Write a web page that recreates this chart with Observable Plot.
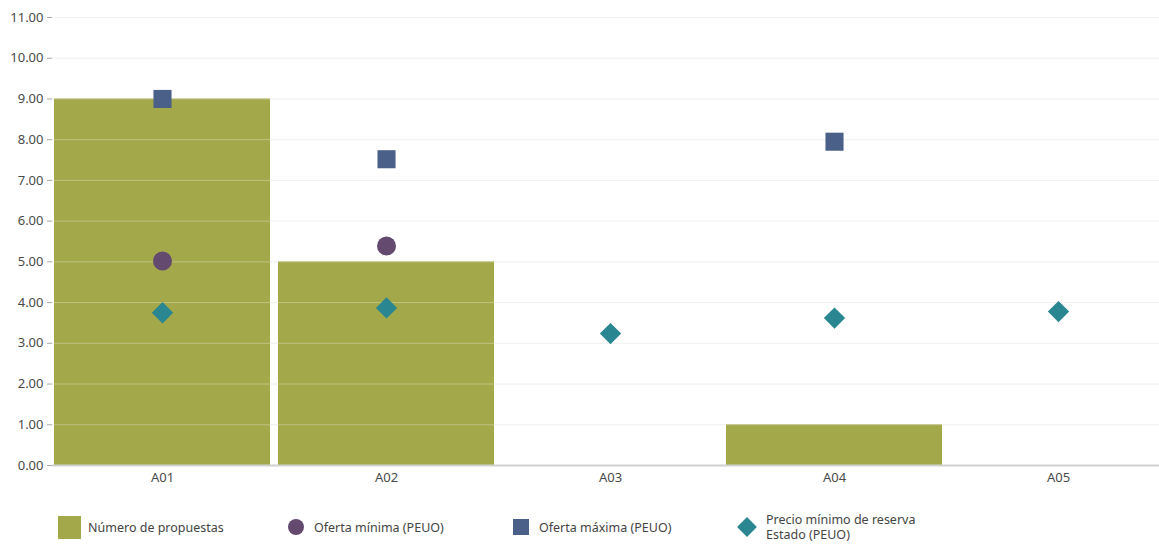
<!DOCTYPE html>
<html>
<head>
<meta charset="utf-8">
<script src="https://cdn.jsdelivr.net/npm/d3@7"></script>
<script src="https://cdn.jsdelivr.net/npm/@observablehq/plot@0.6"></script>
<style>
  html, body { margin: 0; padding: 0; background: #fff; }
  #chart { width: 1159px; font-family: "Noto Sans", "Open Sans", sans-serif; }
  .legend { position: relative; height: 54px; font-size: 12.5px; color: #444; }
  .legend .item { position: absolute; display: flex; align-items: center; }
  .legend .label { line-height: 15px; }
</style>
</head>
<body>
<div id="chart"></div>
<script>
// Lots and the values shown for each
const categories = ["A01", "A02", "A03", "A04", "A05"];
const numeroPropuestas = [9, 5, 0, 1, 0];
const ofertaMinima = [5.02, 5.39, null, null, null];
const ofertaMaxima = [9.0, 7.52, null, 7.95, null];
const precioReserva = [3.75, 3.87, 3.24, 3.62, 3.78];
const yTicks = [0, 1, 2, 3, 4, 5, 6, 7, 8, 9, 10, 11];

const colors = {
  propuestas: "#a3a84a",
  minima: "#654a70",
  maxima: "#4a6089",
  reserva: "#2a8690"
};

const rows = categories.map((cat, i) => ({
  cat,
  propuestas: numeroPropuestas[i],
  minima: ofertaMinima[i],
  maxima: ofertaMaxima[i],
  reserva: precioReserva[i]
}));

const fmt = d => d.toFixed(2);
const grid = yTicks.filter(d => d > 0);

const chart = Plot.plot({
  width: 1159,
  height: 490,
  marginLeft: 52,
  marginRight: 0,
  marginTop: 17,
  marginBottom: 25,
  style: { fontFamily: "Noto Sans, Open Sans, sans-serif", fontSize: "13px", color: "#4a4a4a", background: "#fff" },
  x: { domain: categories, range: [50, 1170], padding: 0, label: null },
  y: { domain: [0, 11], label: null },
  marks: [
    Plot.ruleY(grid, { stroke: "#ececec" }),
    Plot.barY(rows, { x: "cat", y: "propuestas", fill: colors.propuestas, insetLeft: 4, insetRight: 4 }),
    Plot.ruleY(grid, { stroke: "#ffffff", strokeOpacity: 0.3 }),
    Plot.ruleY([0], { stroke: "#d2d2d2", strokeWidth: 2 }),
    Plot.axisY({ ticks: yTicks, tickFormat: fmt, tickSize: 5, tickPadding: 4, stroke: "#aaa", label: null }),
    Plot.axisX({ tickSize: 0, tickPadding: 7, label: null }),
    Plot.dot(rows.filter(d => d.minima != null), { x: "cat", y: "minima", r: 9.5, fill: colors.minima, symbol: "circle" }),
    Plot.dot(rows.filter(d => d.maxima != null), { x: "cat", y: "maxima", r: 10.2, fill: colors.maxima, symbol: "square" }),
    Plot.dot(rows.filter(d => d.reserva != null), { x: "cat", y: "reserva", r: 9.6, fill: colors.reserva, symbol: "diamond2" })
  ]
});

const root = document.getElementById("chart");
root.appendChild(chart);

// Legend below the plot
const legendItems = [
  { left: 58, shape: "rect", color: colors.propuestas, label: "Número de propuestas" },
  { left: 288, shape: "circle", color: colors.minima, label: "Oferta mínima (PEUO)" },
  { left: 513, shape: "square", color: colors.maxima, label: "Oferta máxima (PEUO)" },
  { left: 737, shape: "diamond", color: colors.reserva, label: "Precio mínimo de reserva<br>Estado (PEUO)" }
];
const legend = document.createElement("div");
legend.className = "legend";
for (const it of legendItems) {
  const item = document.createElement("div");
  item.className = "item";
  item.style.left = it.left + "px";
  item.style.top = "25px";
  item.style.height = "24px";
  const sw = document.createElement("div");
  if (it.shape === "rect") {
    Object.assign(sw.style, { width: "23px", height: "23px", background: it.color, marginRight: "7px" });
  } else if (it.shape === "circle") {
    Object.assign(sw.style, { width: "16px", height: "16px", borderRadius: "50%", background: it.color, marginRight: "10px" });
  } else if (it.shape === "square") {
    Object.assign(sw.style, { width: "16px", height: "16px", background: it.color, marginRight: "10px" });
  } else {
    Object.assign(sw.style, { width: "14px", height: "14px", background: it.color, transform: "rotate(45deg)", margin: "0 12px 0 3px" });
  }
  const lab = document.createElement("div");
  lab.className = "label";
  lab.innerHTML = it.label;
  item.appendChild(sw);
  item.appendChild(lab);
  legend.appendChild(item);
}
root.appendChild(legend);
</script>
</body>
</html>
